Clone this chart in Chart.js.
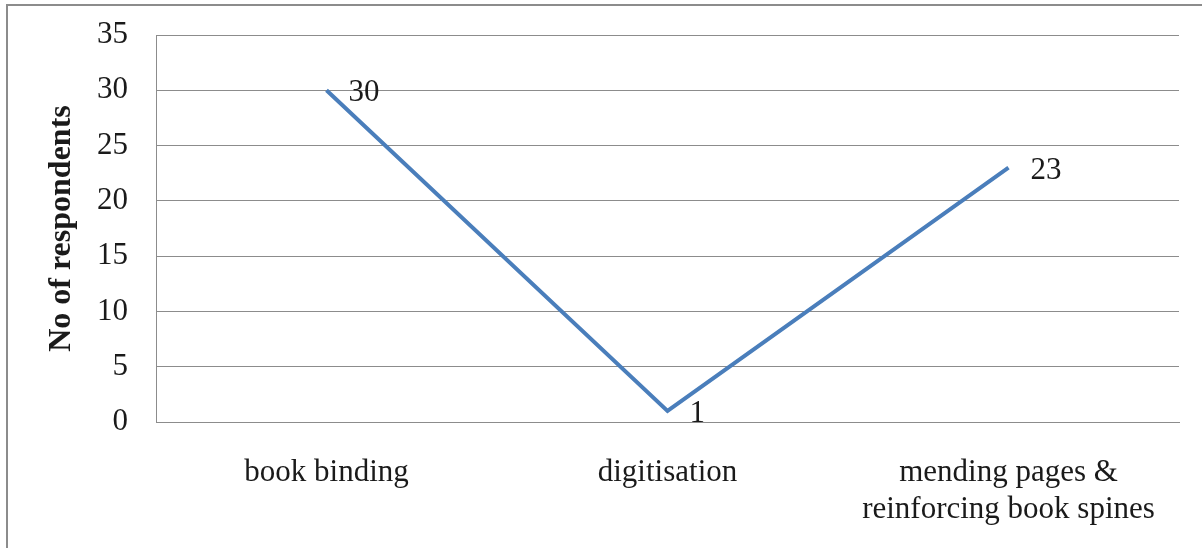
<!DOCTYPE html>
<html>
<head>
<meta charset="utf-8">
<script src="https://cdn.jsdelivr.net/npm/chart.js@4.4.1/dist/chart.umd.min.js"></script>
<style>
  html, body { margin: 0; padding: 0; background: #fff; }
  #wrap { position: relative; width: 1202px; height: 548px; }
</style>
</head>
<body>
<div id="wrap"><canvas id="conservationChart"></canvas></div>
<script>
// Conservation activities and how many respondents mentioned each
const activities = ['book binding', 'digitisation', ['mending pages &', 'reinforcing book spines']];
const respondents = [30, 1, 23];
const yTicks = [0, 5, 10, 15, 20, 25, 30, 35];

const serif = '"Liberation Serif", "Times New Roman", serif';

// frame line along the top and left edge
const framePlugin = {
    id: 'frame',
    beforeDraw(chart) {
        const ctx = chart.ctx;
        ctx.save();
        ctx.strokeStyle = '#8c8c8c';
        ctx.lineWidth = 2;
        ctx.beginPath();
        ctx.moveTo(7, chart.height);
        ctx.lineTo(7, 5);
        ctx.lineTo(chart.width, 5);
        ctx.stroke();
        ctx.restore();
    }
};

// value written to the right of each point
const valueLabels = {
    id: 'valueLabels',
    afterDatasetsDraw(chart) {
        const ctx = chart.ctx;
        const meta = chart.getDatasetMeta(0);
        ctx.save();
        ctx.font = '31px ' + serif;
        ctx.fillStyle = '#1a1a1a';
        ctx.textAlign = 'left';
        ctx.textBaseline = 'middle';
        meta.data.forEach((pt, i) => {
            ctx.fillText(String(respondents[i]), pt.x + 22, pt.y + 3);
        });
        ctx.restore();
    }
};

const ctx = document.getElementById('conservationChart').getContext('2d');
new Chart(ctx, {
    type: 'line',
    data: {
        labels: activities,
        datasets: [{
            data: respondents,
            borderColor: '#4a7ebb',
            borderWidth: 4,
            pointRadius: 0,
            tension: 0,
            fill: false
        }]
    },
    options: {
        responsive: true,
        maintainAspectRatio: false,
        animation: false,
        layout: { padding: { left: 0, top: 35, right: 23, bottom: 0 } },
        plugins: {
            legend: { display: false },
            tooltip: { enabled: false }
        },
        scales: {
            x: {
                offset: true,
                grid: { display: false, drawTicks: false, offset: true },
                border: { display: true, color: '#8c8c8c', width: 1 },
                ticks: {
                    color: '#1a1a1a',
                    padding: 32,
                    maxRotation: 0,
                    autoSkip: false,
                    font: { family: serif, size: 31, lineHeight: 1.2 }
                },
                afterFit(scale) { scale.height = 126; }
            },
            y: {
                min: 0,
                max: 35,
                afterBuildTicks(scale) {
                    scale.ticks = yTicks.map(v => ({ value: v }));
                },
                grid: { color: '#8c8c8c', lineWidth: 1, drawTicks: false },
                border: { display: true, color: '#8c8c8c', width: 1 },
                ticks: {
                    color: '#1a1a1a',
                    padding: 28,
                    font: { family: serif, size: 31 }
                },
                title: {
                    display: true,
                    text: 'No of respondents',
                    color: '#1a1a1a',
                    padding: { top: 43, bottom: 0 },
                    font: { family: serif, size: 32, weight: 'bold' }
                },
                afterFit(scale) {
                    scale.width = 156;
                    scale.paddingTop = 0;
                    scale.paddingBottom = 0;
                }
            }
        }
    },
    plugins: [framePlugin, valueLabels]
});
</script>
</body>
</html>
